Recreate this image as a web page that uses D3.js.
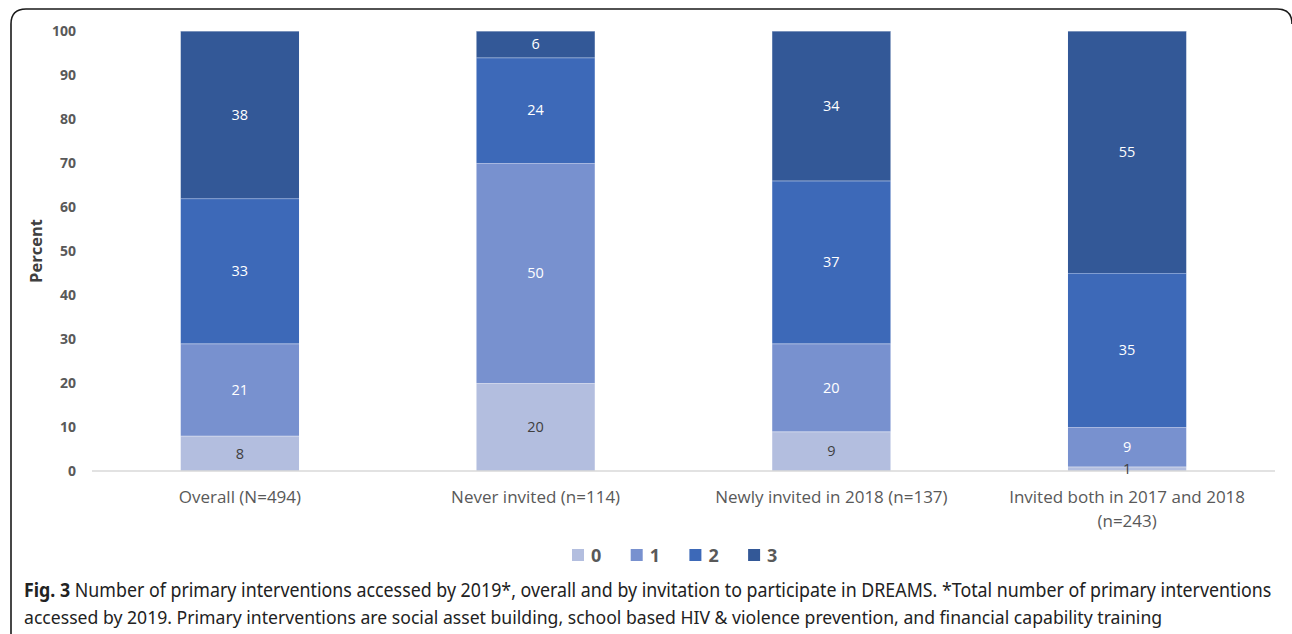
<!DOCTYPE html>
<html>
<head>
<meta charset="utf-8">
<script src="https://cdn.jsdelivr.net/npm/d3@7"></script>
<style>
  html, body { margin: 0; padding: 0; background: #fff; }
  svg { display: block; }
</style>
</head>
<body>
<svg id="chart" width="1292" height="634"></svg>
<script>
// Groups (x-axis categories); multi-line labels split on "|"
const categories = [
  "Overall (N=494)",
  "Never invited (n=114)",
  "Newly invited in 2018 (n=137)",
  "Invited both in 2017 and 2018|(n=243)"
];
// Number of primary interventions accessed (stack series)
const seriesNames = ["0", "1", "2", "3"];
// Percent of each group, per series
const values0 = [8, 20, 9, 1];
const values1 = [21, 50, 20, 9];
const values2 = [33, 24, 37, 35];
const values3 = [38, 6, 34, 55];
const yTicks = [0, 10, 20, 30, 40, 50, 60, 70, 80, 90, 100];

const colors = ["#b3bedf", "#7891cf", "#3d69b8", "#335897"];
const labelColors = ["#404040", "#ffffff", "#ffffff", "#ffffff"];

const table = categories.map((c, i) => ({
  cat: c, "0": values0[i], "1": values1[i], "2": values2[i], "3": values3[i]
}));
const stacked = d3.stack().keys(seriesNames)(table);

const svg = d3.select("#chart");
const margin = { left: 92, right: 17, top: 31, bottom: 163 };
const W = 1292, H = 634;

// Rounded frame around the figure panel
svg.append("path")
  .attr("d", "M11,634 L11,24 Q11,9 26,9 L1277,9 Q1292,9 1292,24")
  .attr("fill", "none").attr("stroke", "#1a1a1a").attr("stroke-width", 1.6);

const x = d3.scaleBand()
  .domain(categories)
  .range([margin.left, W - margin.right])
  .paddingInner(0.6).paddingOuter(0.3);
const y = d3.scaleLinear().domain([0, 100]).range([H - margin.bottom, margin.top]);

// Stacked bars
const layers = svg.append("g").selectAll("g").data(stacked).join("g")
  .attr("fill", (d, i) => colors[i]);
layers.selectAll("rect").data(d => d).join("rect")
  .attr("x", d => x(d.data.cat))
  .attr("width", x.bandwidth())
  .attr("y", d => y(d[1]))
  .attr("height", d => y(d[0]) - y(d[1]));
// thin light separators between segments
layers.selectAll("line").data(d => d).join("line")
  .attr("x1", d => x(d.data.cat)).attr("x2", d => x(d.data.cat) + x.bandwidth())
  .attr("y1", d => y(d[1]) + 0.5).attr("y2", d => y(d[1]) + 0.5)
  .attr("stroke", "#ffffff").attr("stroke-opacity", 0.35).attr("stroke-width", 1);

// Baseline axis
const xAxis = svg.append("g").attr("transform", `translate(0,${y(0)})`)
  .call(d3.axisBottom(x).tickSize(0).tickFormat(""));
xAxis.select(".domain").attr("stroke", "#d9d9d9").attr("stroke-width", 1.3)
  .attr("d", `M${margin.left},0H${W - margin.right}`);

// Value labels
stacked.forEach((layer, si) => {
  svg.append("g").selectAll("text").data(layer).join("text")
    .attr("x", d => x(d.data.cat) + x.bandwidth() / 2)
    .attr("y", d => (y(d[0]) + y(d[1])) / 2)
    .attr("dy", "0.36em")
    .attr("text-anchor", "middle")
    .attr("font-family", "'Open Sans', sans-serif")
    .attr("font-size", 14.5)
    .attr("fill", labelColors[si])
    .text(d => d[1] - d[0]);
});

// Y axis (labels only)
const yAxis = svg.append("g").attr("transform", `translate(${margin.left - 16},0)`)
  .call(d3.axisLeft(y).tickValues(yTicks).tickSize(0).tickPadding(0));
yAxis.select(".domain").remove();
yAxis.selectAll("text")
  .attr("font-family", "'Open Sans', sans-serif")
  .attr("font-weight", "bold").attr("font-size", 14).attr("fill", "#595959");

svg.append("text")
  .attr("transform", `translate(42,${(y(0) + y(100)) / 2}) rotate(-90)`)
  .attr("text-anchor", "middle")
  .attr("font-family", "'Open Sans', sans-serif")
  .attr("font-weight", "bold").attr("font-size", 16.5).attr("fill", "#404040")
  .text("Percent");

// Category labels
categories.forEach(c => {
  const t = svg.append("text")
    .attr("x", x(c) + x.bandwidth() / 2)
    .attr("y", y(0) + 32)
    .attr("text-anchor", "middle")
    .attr("font-family", "'Open Sans', sans-serif")
    .attr("font-size", 17).attr("fill", "#595959");
  c.split("|").forEach((line, i) => {
    t.append("tspan").attr("x", x(c) + x.bandwidth() / 2)
      .attr("dy", i === 0 ? 0 : 24).text(line);
  });
});

// Legend
const legend = svg.append("g").attr("transform", "translate(572,549)");
seriesNames.forEach((s, i) => {
  const g = legend.append("g").attr("transform", `translate(${i * 58.7},0)`);
  g.append("rect").attr("width", 12).attr("height", 12).attr("fill", colors[i]);
  g.append("text").attr("x", 19).attr("y", 13)
    .attr("font-family", "'Open Sans', sans-serif")
    .attr("font-weight", "bold").attr("font-size", 18).attr("fill", "#595959")
    .text(s);
});

// Figure caption: condensed horizontally to a fixed line width
function captionLine(yPos, width, parts) {
  const g = svg.append("g");
  const t = g.append("text").attr("x", 0).attr("y", 0)
    .attr("font-family", "'Noto Sans', sans-serif").attr("font-size", 19).attr("fill", "#222");
  parts.forEach(p => t.append("tspan").attr("font-weight", p.bold ? "bold" : null).text(p.text));
  const natural = t.node().getComputedTextLength();
  g.attr("transform", `translate(24,${yPos}) scale(${width / natural},1)`);
}
captionLine(597, 1248, [
  { text: "Fig. 3", bold: true },
  { text: " Number of primary interventions accessed by 2019*, overall and by invitation to participate in DREAMS. *Total number of primary interventions" }
]);
captionLine(624, 1139, [
  { text: "accessed by 2019. Primary interventions are social asset building, school based HIV & violence prevention, and financial capability training" }
]);
</script>
</body>
</html>
